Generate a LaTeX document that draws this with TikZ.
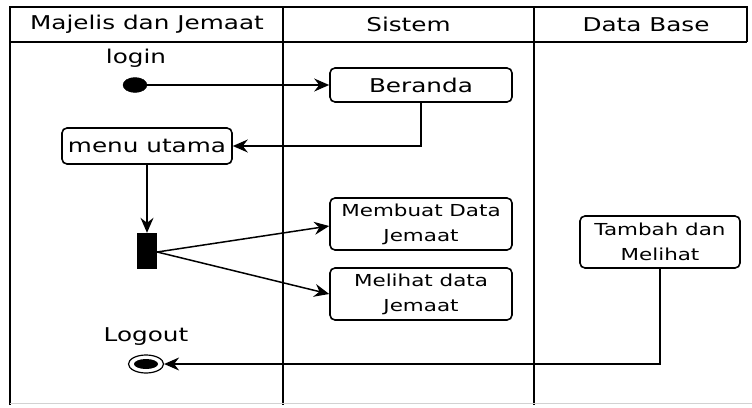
\documentclass[tikz,border=0pt]{standalone}
\usepackage{fontspec}
\setmainfont{DejaVu Sans}[FakeStretch=1.3]
\usetikzlibrary{arrows.meta,shapes.geometric,calc}
\begin{document}
\begin{tikzpicture}[x=1pt,y=-1pt,
  big/.style={font=\fontsize{19}{23}\selectfont},
  small/.style={font=\fontsize{16.5}{25}\selectfont},
  act/.style={draw,line width=1.6pt,rounded corners=5pt,inner sep=0pt,align=center},
  lane/.style={line width=1.8pt},
  conn/.style={line width=1.5pt,-{Stealth[length=15pt,width=13pt,inset=5pt]}},
  plain/.style={line width=1.5pt}
]
\useasboundingbox (0,0) rectangle (752,407);
\fill[white] (0,0) rectangle (752,407);
% swimlanes
\draw[lane] (10,405) -- (10,7) -- (747,7) -- (747,42);
\draw[lane] (10,42) -- (747,42);
\draw[lane] (283,7) -- (283,405);
\draw[lane] (534,7) -- (534,405);
\draw[gray!35,line width=1pt] (10,403.5) -- (752,403.5);
\node[big] (h1) at (147,24.5) {Majelis dan Jemaat};
\node[big] (h2) at (408.5,24.5) {Sistem};
\node[big] (h3) at (646,24.5) {Data Base};
% nodes
\node[big] (login) at (136,58) {login};
\node[draw,fill=black,ellipse,minimum width=24pt,minimum height=15pt,inner sep=0pt] (start) at (135,85) {};
\node[act,big,minimum width=182pt,minimum height=34pt] (beranda) at (421,85) {Beranda};
\node[act,big,minimum width=170pt,minimum height=36pt] (menu) at (147,146) {menu utama};
\node[fill=black,minimum width=20pt,minimum height=36pt,inner sep=0pt] (bar) at (147,251) {};
\node[act,small,minimum width=182pt,minimum height=52pt] (buat) at (421,224) {Membuat Data\\Jemaat};
\node[act,small,minimum width=182pt,minimum height=52pt] (lihat) at (421,294) {Melihat data\\Jemaat};
\node[act,small,minimum width=160pt,minimum height=52pt] (tambah) at (660,242) {Tambah dan\\Melihat};
\node[big] (logout) at (146,337) {Logout};
\node[draw,ellipse,line width=1.2pt,minimum width=35pt,minimum height=18pt,inner sep=0pt] (end) at (146,364) {};
\node[fill=black,ellipse,minimum width=24pt,minimum height=10pt,inner sep=0pt] (endin) at (146,364) {};
% connectors
\draw[conn] (start) -- (beranda.west);
\draw[conn] (beranda.south) |- (menu.east);
\draw[conn] (menu.south) -- (bar.north);
\draw[conn] ($(bar.east)+(0,1)$) -- ($(buat.west)+(0,2)$);
\draw[conn] ($(bar.east)+(0,1)$) -- (lihat.west);
\draw[conn] (tambah.south) |- (end.east);
\end{tikzpicture}
\end{document}
